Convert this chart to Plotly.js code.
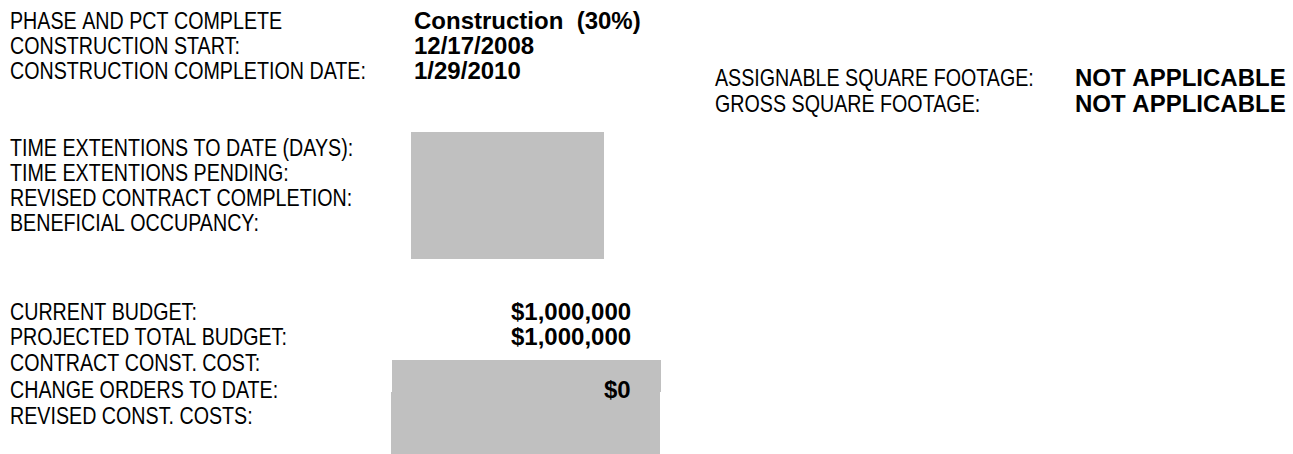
<!DOCTYPE html>
<html>
<head>
<meta charset="utf-8">
<script src="https://cdn.plot.ly/plotly-3.0.1.min.js"></script>
<style>html,body{margin:0;padding:0;background:#fff;}#chart{width:1293px;height:454px;}</style>
</head>
<body>
<div id="chart"></div>
<script>
// Data
const scheduleLabels = ["PHASE AND PCT COMPLETE", "CONSTRUCTION START:", "CONSTRUCTION COMPLETION DATE:"];
const scheduleValues = ["Construction  (30%)", "12/17/2008", "1/29/2010"];
const extensionLabels = ["TIME EXTENTIONS TO DATE (DAYS):", "TIME EXTENTIONS PENDING:", "REVISED CONTRACT COMPLETION:", "BENEFICIAL OCCUPANCY:"];
const extensionValues = ["", "", "", ""];
const budgetLabels = ["CURRENT BUDGET:", "PROJECTED TOTAL BUDGET:", "CONTRACT CONST. COST:", "CHANGE ORDERS TO DATE:", "REVISED CONST. COSTS:"];
const budgetValues = ["$1,000,000", "$1,000,000", "", "$0", ""];
const footageLabels = ["ASSIGNABLE SQUARE FOOTAGE:", "GROSS SQUARE FOOTAGE:"];
const footageValues = ["NOT APPLICABLE", "NOT APPLICABLE"];

// Styling / placement
const NARROW = 0.82;
const labelFont = {family: "'Liberation Sans', Arial, sans-serif", size: 24, color: "#000"};
const valueFont = {family: "'Liberation Sans', Arial, sans-serif", size: 24, color: "#000", weight: "bold"};
const annotations = [];
const narrowIdx = [];
function esc(t) { return t.replace(/ /g, "\u00a0"); }
function addText(text, x, y, font, anchor, narrow) {
  if (!text) return;
  if (narrow) narrowIdx.push(annotations.length);
  annotations.push({text: esc(text), x: x, y: y, xref: "x", yref: "y", xanchor: anchor || "left", yanchor: "middle",
    showarrow: false, font: font, align: anchor === "right" ? "right" : "left", borderpad: 0});
}
const scheduleY = [20, 45, 70];
scheduleLabels.forEach((l, i) => { addText(l, 9, scheduleY[i], labelFont, "left", true); addText(scheduleValues[i], 413, scheduleY[i], valueFont); });
const extensionY = [147, 172, 197, 222];
extensionLabels.forEach((l, i) => { addText(l, 9, extensionY[i], labelFont, "left", true); addText(extensionValues[i], 413, extensionY[i], valueFont); });
const budgetY = [311, 336, 362, 389, 415];
budgetLabels.forEach((l, i) => { addText(l, 9, budgetY[i], labelFont, "left", true); addText(budgetValues[i], 632, budgetY[i], valueFont, "right"); });
const footageY = [77, 103];
footageLabels.forEach((l, i) => { addText(l, 714, footageY[i], labelFont, "left", true); addText(footageValues[i], 1074, footageY[i], valueFont); });

const grey = "#c0c0c0";
const shapes = [
  {type: "rect", xref: "x", yref: "y", x0: 411, x1: 604, y0: 132, y1: 259, fillcolor: grey, line: {width: 0}, layer: "below"},
  {type: "rect", xref: "x", yref: "y", x0: 392, x1: 661, y0: 360, y1: 392, fillcolor: grey, line: {width: 0}, layer: "below"},
  {type: "rect", xref: "x", yref: "y", x0: 391, x1: 660, y0: 392, y1: 454, fillcolor: grey, line: {width: 0}, layer: "below"}
];

const layout = {
  width: 1293, height: 454,
  margin: {l: 0, r: 0, t: 0, b: 0},
  paper_bgcolor: "#fff", plot_bgcolor: "#fff",
  xaxis: {range: [0, 1293], visible: false, fixedrange: true},
  yaxis: {range: [454, 0], visible: false, fixedrange: true},
  showlegend: false,
  annotations: annotations,
  shapes: shapes
};
Plotly.newPlot("chart", [], layout, {staticPlot: true, displayModeBar: false}).then(function (gd) {
  // emulate Arial Narrow: condense label texts horizontally around their left edge
  const groups = gd.querySelectorAll("g.annotation");
  narrowIdx.forEach(function (i) {
    const g = groups[i];
    if (!g) return;
    const t = g.querySelector("text");
    if (!t) return;
    const bb = t.getBBox();
    t.setAttribute("transform", "translate(" + bb.x + ",0) scale(" + NARROW + ",1) translate(" + (-bb.x) + ",0)");
  });
});
</script>
</body>
</html>
